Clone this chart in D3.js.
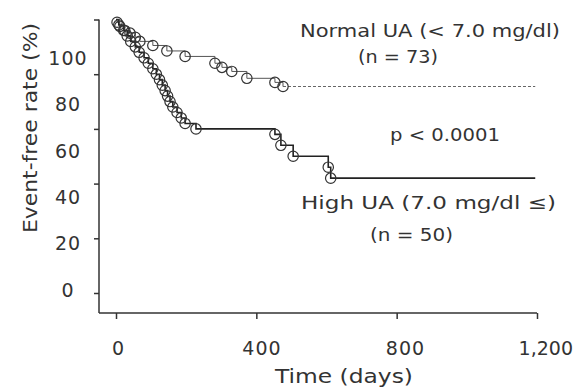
<!DOCTYPE html>
<html>
<head>
    <title>Event-free rate by uric acid</title>
    <script src="https://d3js.org/d3.v7.min.js"></script>
    <style>
        html, body {
            margin: 0;
            background: #fff;
            overflow: hidden;
        }
        text {
            font-family: "DejaVu Sans", sans-serif;
            fill: #333;
        }
    </style>
</head>
<body>
    <div id="chart"></div>

    <script>
        // Kaplan-Meier steps (days, event-free %)
        const normalDays = [0, 3, 11, 25, 40, 55, 68, 105, 145, 197, 282, 302, 330, 373, 453, 476];
        const normalSurv = [100, 99, 97.5, 96, 95, 93.5, 92, 90.5, 88.5, 86.5, 84, 82.5, 81, 78.5, 77, 75.5];
        const normalEnd = 1195;

        const highDays = [0, 8, 22, 32, 42, 55, 66, 80, 92, 105, 115, 124, 132, 140, 147, 154, 162, 174, 186, 197, 228, 453, 470, 505, 605, 612];
        const highSurv = [100, 98, 96, 94, 92, 90, 88, 86, 84, 82, 80, 78, 76, 74, 72, 70, 68, 66, 64, 62, 60, 58, 54, 50, 46, 42];
        const highEnd = 1195;

        const xTicks = [0, 400, 800, 1200];
        const yTicks = [0, 20, 40, 60, 80, 100];

        const width = 575, height = 389;
        const plot = {left: 99, bottom: 313};

        const svg = d3.select("#chart")
            .append("svg")
            .attr("width", width)
            .attr("height", height);

        // scales
        const x = d3.scaleLinear().domain([0, 1200]).range([116, 537]);
        const y = d3.scaleLinear().domain([0, 100]).range([293, 19.5]);
        // the printed tick labels sit a little off their ticks in the original
        const xLab = d3.scaleLinear().domain([0, 1200]).range([118.5, 549]);
        const yLab = d3.scaleLinear().domain([0, 100]).range([290, 58]);

        // axes
        const axisColor = "#333";
        svg.append("line")
            .attr("x1", plot.left).attr("x2", plot.left)
            .attr("y1", y(100)).attr("y2", plot.bottom)
            .attr("stroke", axisColor).attr("stroke-width", 1.5);
        svg.append("line")
            .attr("x1", plot.left).attr("x2", x(1200))
            .attr("y1", plot.bottom).attr("y2", plot.bottom)
            .attr("stroke", axisColor).attr("stroke-width", 1.5);

        const yAxis = svg.append("g")
            .attr("transform", `translate(${plot.left},0)`)
            .call(d3.axisLeft(y).tickValues(yTicks).tickSize(5).tickFormat(""));
        const xAxis = svg.append("g")
            .attr("transform", `translate(0,${plot.bottom})`)
            .call(d3.axisBottom(x).tickValues(xTicks).tickSize(6).tickFormat(""));
        [yAxis, xAxis].forEach(g => {
            g.select(".domain").remove();
            g.selectAll(".tick line").attr("stroke", axisColor).attr("stroke-width", 1.5);
        });

        // tick labels
        svg.selectAll(".ylab")
            .data(yTicks)
            .join("text")
            .attr("class", "ylab")
            .attr("x", 68)
            .attr("y", d => yLab(d))
            .attr("dy", "0.36em")
            .attr("text-anchor", "middle")
            .attr("font-size", 19)
            .attr("letter-spacing", 1)
            .text(d => d);

        svg.selectAll(".xlab")
            .data(xTicks)
            .join("text")
            .attr("class", "xlab")
            .attr("x", d => d === 1200 ? 573 : xLab(d))
            .attr("y", 355)
            .attr("text-anchor", d => d === 1200 ? "end" : "middle")
            .attr("font-size", 19)
            .attr("letter-spacing", d => d === 1200 ? 0 : 1)
            .text(d => d3.format(",")(d));

        // axis titles
        svg.append("text")
            .attr("x", 275).attr("y", 383)
            .attr("font-size", 20)
            .attr("textLength", 138).attr("lengthAdjust", "spacingAndGlyphs")
            .text("Time (days)");
        svg.append("text")
            .attr("transform", "translate(37,233) rotate(-90)")
            .attr("font-size", 20)
            .attr("textLength", 210).attr("lengthAdjust", "spacingAndGlyphs")
            .text("Event-free rate (%)");

        // curves
        const stepLine = d3.line()
            .x(d => x(d[0]))
            .y(d => y(d[1]))
            .curve(d3.curveStepAfter);

        const normalPts = normalDays.map((d, i) => [d, normalSurv[i]]);
        const highPts = highDays.map((d, i) => [d, highSurv[i]]);

        svg.append("path")
            .datum(normalPts)
            .attr("d", stepLine)
            .attr("fill", "none")
            .attr("stroke", "#555")
            .attr("stroke-width", 1);
        svg.append("path")
            .datum([normalPts[normalPts.length - 1], [normalEnd, normalSurv[normalSurv.length - 1]]])
            .attr("d", stepLine)
            .attr("fill", "none")
            .attr("stroke", "#666")
            .attr("stroke-width", 1)
            .attr("stroke-dasharray", "3,2");

        svg.append("path")
            .datum(highPts.concat([[highEnd, highSurv[highSurv.length - 1]]]))
            .attr("d", stepLine)
            .attr("fill", "none")
            .attr("stroke", "#222")
            .attr("stroke-width", 1.6);

        // markers
        const marks = normalPts.slice(1).concat(highPts.slice(1));
        svg.selectAll(".mark")
            .data(marks)
            .join("circle")
            .attr("class", "mark")
            .attr("cx", d => x(d[0]))
            .attr("cy", d => y(d[1]))
            .attr("r", 5.2)
            .attr("fill", "none")
            .attr("stroke", "#333")
            .attr("stroke-width", 1.2);

        // annotations
        const notes = [
            {t: "Normal UA (< 7.0 mg/dl)", x: 300, y: 37, w: 260},
            {t: "(n = 73)", x: 358, y: 63, w: 80},
            {t: "p < 0.0001", x: 390, y: 141, w: 110},
            {t: "High UA (7.0 mg/dl \u2264)", x: 301, y: 209, w: 255},
            {t: "(n = 50)", x: 370, y: 241, w: 83}
        ];
        svg.selectAll(".note")
            .data(notes)
            .join("text")
            .attr("class", "note")
            .attr("x", d => d.x)
            .attr("y", d => d.y)
            .attr("font-size", 18)
            .attr("textLength", d => d.w)
            .attr("lengthAdjust", "spacingAndGlyphs")
            .text(d => d.t);
    </script>
</body>
</html>
